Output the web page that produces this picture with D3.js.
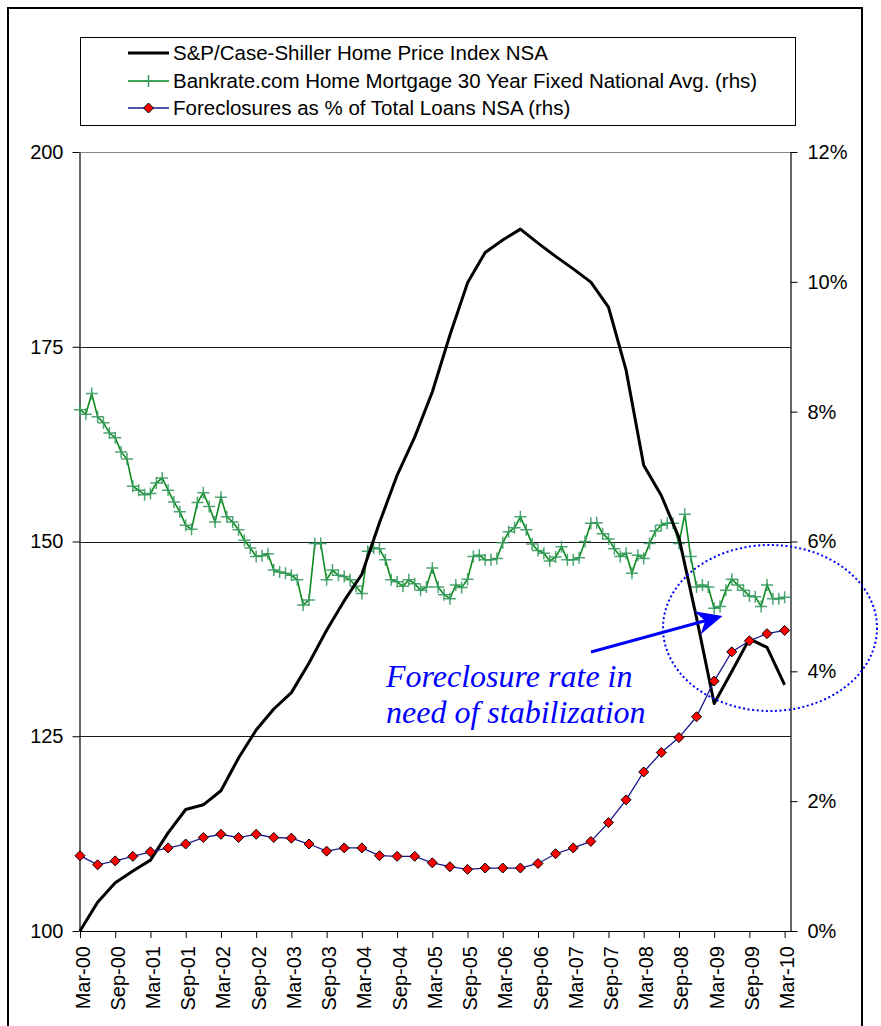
<!DOCTYPE html>
<html>
<head>
<meta charset="utf-8">
<script src="https://cdn.jsdelivr.net/npm/d3@7"></script>
<style>
  html, body { margin: 0; padding: 0; background: #fff; }
  svg { display: block; font-family: "Liberation Sans", Arial, sans-serif; }
</style>
</head>
<body>
<svg id="chart" width="881" height="1026"></svg>
<script>
// ---- Data -------------------------------------------------------------
// Monthly axis runs Mar-00 .. Apr-10 (index 0 = Mar-00)
const tickLabels = ["Mar-00","Sep-00","Mar-01","Sep-01","Mar-02","Sep-02","Mar-03","Sep-03",
  "Mar-04","Sep-04","Mar-05","Sep-05","Mar-06","Sep-06","Mar-07","Sep-07","Mar-08","Sep-08",
  "Mar-09","Sep-09","Mar-10"];

// S&P/Case-Shiller Home Price Index NSA, quarterly Mar-00 .. Mar-10 (left axis)
const caseShiller = [100.0, 103.7, 106.2, 107.7, 109.1, 112.6, 115.6, 116.2, 118.0, 122.2,
  125.8, 128.5, 130.6, 134.4, 138.6, 142.4, 145.8, 152.4, 158.5, 163.4,
  169.2, 176.5, 183.2, 187.1, 188.7, 190.1, 188.3, 186.6, 185.0, 183.3,
  180.1, 172.0, 159.8, 155.9, 150.5, 140.2, 129.2, 133.3, 137.5, 136.4, 131.6];

// Bankrate.com 30-year fixed national average, monthly Mar-00 .. Mar-10 (%)
const mortgageRate = [8.03, 7.96, 8.28, 7.92, 7.83, 7.67, 7.60, 7.38, 7.27, 6.85,
  6.79, 6.72, 6.74, 6.90, 6.98, 6.79, 6.61, 6.46, 6.25, 6.19,
  6.60, 6.75, 6.54, 6.30, 6.68, 6.38, 6.30, 6.18, 6.02, 5.90,
  5.77, 5.78, 5.81, 5.56, 5.53, 5.51, 5.48, 5.41, 5.02, 5.10,
  5.97, 5.97, 5.41, 5.56, 5.48, 5.46, 5.41, 5.31, 5.20, 5.85,
  5.90, 5.89, 5.72, 5.41, 5.38, 5.31, 5.41, 5.35, 5.25, 5.30,
  5.59, 5.30, 5.18, 5.12, 5.33, 5.29, 5.42, 5.77, 5.79, 5.72,
  5.72, 5.74, 5.98, 6.15, 6.21, 6.38, 6.18, 5.96, 5.86, 5.82,
  5.70, 5.76, 5.92, 5.72, 5.72, 5.75, 6.00, 6.28, 6.29, 6.12,
  6.04, 5.89, 5.77, 5.82, 5.51, 5.79, 5.74, 5.97, 6.16, 6.25,
  6.28, 6.28, 5.97, 6.42, 5.77, 5.30, 5.33, 5.30, 4.97, 5.00,
  5.25, 5.42, 5.33, 5.25, 5.16, 5.15, 5.00, 5.33, 5.12, 5.12, 5.14];

// Foreclosures as % of total loans NSA, quarterly Mar-00 .. Mar-10 (%)
const foreclosurePct = [1.16, 1.02, 1.08, 1.15, 1.22, 1.28, 1.34, 1.44, 1.49, 1.44,
  1.49, 1.44, 1.43, 1.34, 1.23, 1.28, 1.28, 1.16, 1.15, 1.15,
  1.05, 0.99, 0.95, 0.97, 0.97, 0.97, 1.04, 1.19, 1.28, 1.38,
  1.67, 2.02, 2.45, 2.75, 2.98, 3.30, 3.85, 4.30, 4.47, 4.58, 4.63];

const leftTicks = [100, 125, 150, 175, 200];
const rightTicks = [0, 2, 4, 6, 8, 10, 12];
const seriesNames = [
  "S&P/Case-Shiller Home Price Index NSA",
  "Bankrate.com Home Mortgage 30 Year Fixed National Avg. (rhs)",
  "Foreclosures as % of Total Loans NSA (rhs)"
];
const noteLines = ["Foreclosure rate in", "need of stabilization"];

// ---- Layout -----------------------------------------------------------
const svg = d3.select("#chart");
const plot = { left: 79.5, right: 790.5, top: 152, bottom: 931 };
const nMonths = 121;

const x = d3.scaleLinear().domain([0, nMonths]).range([plot.left + 0.5, plot.right]);
const yL = d3.scaleLinear().domain([100, 200]).range([plot.bottom, plot.top]);
const yR = d3.scaleLinear().domain([0, 12]).range([plot.bottom, plot.top]);

// Outer frame
svg.append("rect")
  .attr("x", 8).attr("y", 8).attr("width", 854).attr("height", 1040)
  .attr("fill", "none").attr("stroke", "#000").attr("stroke-width", 2);

// Horizontal gridlines at the left-axis ticks
const grid = svg.append("g");
leftTicks.filter(v => v > 100).forEach(v => {
  grid.append("line")
    .attr("x1", plot.left).attr("x2", plot.right)
    .attr("y1", Math.round(yL(v)) + 0.5).attr("y2", Math.round(yL(v)) + 0.5)
    .attr("stroke", v === 200 ? "#8a8a8a" : "#1a1a1a").attr("stroke-width", 1);
});

// Axes
const axisFont = 20;
const gLeft = svg.append("g").attr("transform", `translate(${plot.left},0)`)
  .call(d3.axisLeft(yL).tickValues(leftTicks).tickSize(7).tickPadding(9).tickSizeOuter(0));
const gRight = svg.append("g").attr("transform", `translate(${plot.right},0)`)
  .call(d3.axisRight(yR).tickValues(rightTicks).tickSize(7).tickPadding(10).tickSizeOuter(0)
    .tickFormat(d => d + "%"));
const gBottom = svg.append("g").attr("transform", `translate(0,${plot.bottom})`)
  .call(d3.axisBottom(x).tickValues(tickLabels.map((_, i) => i * 6)).tickSize(7).tickSizeOuter(0)
    .tickFormat((d, i) => tickLabels[i]));

[gLeft, gRight, gBottom].forEach(g => {
  g.attr("font-family", "'Liberation Sans', Arial, sans-serif").attr("font-size", axisFont);
  g.select(".domain").attr("stroke", "#000").attr("stroke-width", 1.2);
  g.selectAll(".tick line").attr("stroke", "#000").attr("stroke-width", 1);
  g.selectAll("text").attr("fill", "#000");
});
gBottom.selectAll("text")
  .attr("transform", "rotate(-90)")
  .attr("text-anchor", "end")
  .attr("x", -15).attr("y", 2).attr("dy", "0.35em");

// ---- Series -----------------------------------------------------------
// Mortgage rate (monthly) – green line with plus markers
const green = svg.append("g");
green.append("path")
  .datum(mortgageRate)
  .attr("fill", "none").attr("stroke", "#0b8a1e").attr("stroke-width", 1.6)
  .attr("d", d3.line().x((d, i) => x(i)).y(d => yR(d)));
const plusSize = 6;
green.selectAll("path.plus")
  .data(mortgageRate)
  .join("path")
  .attr("class", "plus")
  .attr("fill", "none").attr("stroke", "#3a9c62").attr("stroke-width", 1.5).attr("opacity", 0.9)
  .attr("d", (d, i) => {
    const cx = x(i), cy = yR(d);
    return `M${cx - plusSize},${cy}H${cx + plusSize}M${cx},${cy - plusSize}V${cy + plusSize}`;
  });

// Case-Shiller (quarterly) – thick black line
svg.append("path")
  .datum(caseShiller)
  .attr("fill", "none").attr("stroke", "#000").attr("stroke-width", 3)
  .attr("stroke-linejoin", "round")
  .attr("d", d3.line().x((d, i) => x(i * 3)).y(d => yL(d)));

// Foreclosures (quarterly) – navy line with red diamonds
const fc = svg.append("g");
fc.append("path")
  .datum(foreclosurePct)
  .attr("fill", "none").attr("stroke", "#1a1a8c").attr("stroke-width", 1.3)
  .attr("d", d3.line().x((d, i) => x(i * 3)).y(d => yR(d)));
const dia = 5;
fc.selectAll("path.dia")
  .data(foreclosurePct)
  .join("path")
  .attr("class", "dia")
  .attr("fill", "#ff0000").attr("stroke", "#000").attr("stroke-width", 1)
  .attr("d", (d, i) => {
    const cx = x(i * 3), cy = yR(d);
    return `M${cx},${cy - dia}L${cx + dia},${cy}L${cx},${cy + dia}L${cx - dia},${cy}Z`;
  });

// ---- Legend -----------------------------------------------------------
const legend = svg.append("g");
legend.append("rect")
  .attr("x", 80.5).attr("y", 37.5).attr("width", 715).attr("height", 88)
  .attr("fill", "#fff").attr("stroke", "#000").attr("stroke-width", 1);
const rowY = [53, 81, 108];
const sx0 = 128, sx1 = 169, smid = (sx0 + sx1) / 2;
// row 1
legend.append("line").attr("x1", sx0).attr("x2", sx1).attr("y1", rowY[0]).attr("y2", rowY[0])
  .attr("stroke", "#000").attr("stroke-width", 3);
// row 2
legend.append("line").attr("x1", sx0).attr("x2", sx1).attr("y1", rowY[1]).attr("y2", rowY[1])
  .attr("stroke", "#0b8a1e").attr("stroke-width", 1.6);
legend.append("path").attr("fill", "none").attr("stroke", "#3a9c62").attr("stroke-width", 1.5)
  .attr("d", `M${smid - plusSize},${rowY[1]}H${smid + plusSize}M${smid},${rowY[1] - plusSize}V${rowY[1] + plusSize}`);
// row 3
legend.append("line").attr("x1", sx0).attr("x2", sx1).attr("y1", rowY[2]).attr("y2", rowY[2])
  .attr("stroke", "#1a1a8c").attr("stroke-width", 1.3);
legend.append("path").attr("fill", "#ff0000").attr("stroke", "#000").attr("stroke-width", 1)
  .attr("d", `M${smid},${rowY[2] - dia}L${smid + dia},${rowY[2]}L${smid},${rowY[2] + dia}L${smid - dia},${rowY[2]}Z`);
legend.selectAll("text.lg")
  .data(seriesNames)
  .join("text")
  .attr("class", "lg")
  .attr("x", 173).attr("y", (d, i) => rowY[i]).attr("dy", "0.36em")
  .attr("font-size", 20.5).attr("fill", "#000")
  .text(d => d);

// ---- Annotation -------------------------------------------------------
const note = svg.append("g");
note.selectAll("text")
  .data(noteLines)
  .join("text")
  .attr("x", 386).attr("y", (d, i) => 687 + i * 36)
  .attr("font-family", "'Liberation Serif', 'Times New Roman', serif")
  .attr("font-style", "italic").attr("font-size", 32).attr("fill", "#0000ff")
  .text(d => d);

// Arrow toward the rate trough
const tail = [591, 652], tip = [722.5, 616];
const dx = tip[0] - tail[0], dy = tip[1] - tail[1];
const len = Math.hypot(dx, dy), ux = dx / len, uy = dy / len, nx = -uy, ny = ux;
const headL = 26, headW = 12, notch = 18;
const base = [tip[0] - headL * ux, tip[1] - headL * uy];
const nPt = [tip[0] - notch * ux, tip[1] - notch * uy];
note.append("line")
  .attr("x1", tail[0]).attr("y1", tail[1]).attr("x2", nPt[0]).attr("y2", nPt[1])
  .attr("stroke", "#0000ff").attr("stroke-width", 3);
note.append("path")
  .attr("fill", "#0000ff")
  .attr("d", `M${tip[0]},${tip[1]}L${base[0] + headW * nx},${base[1] + headW * ny}L${nPt[0]},${nPt[1]}L${base[0] - headW * nx},${base[1] - headW * ny}Z`);

// Dotted ellipse around the recent readings
note.append("ellipse")
  .attr("cx", 770).attr("cy", 628).attr("rx", 107).attr("ry", 83)
  .attr("fill", "none").attr("stroke", "#0000ff").attr("stroke-width", 2)
  .attr("stroke-dasharray", "2 2.6");
</script>
</body>
</html>
